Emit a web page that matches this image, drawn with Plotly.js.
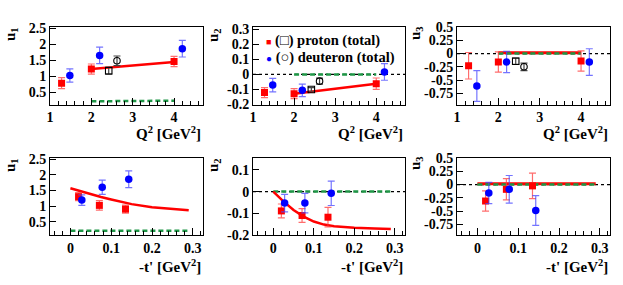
<!DOCTYPE html>
<html>
<head>
<meta charset="utf-8">
<script src="https://cdn.plot.ly/plotly-3.0.1.min.js"></script>
<style>html,body{margin:0;padding:0;background:#fff;}#plot{width:623px;height:285px;}</style>
</head>
<body>
<div id="plot"></div>
<script>
// ---------- data: Q^2 dependence ----------
const q2Proton   = [1.28, 2.0, 4.0];
const q2Deuteron = [1.48, 2.2, 4.2];
const q2ProtonTot   = [2.42];
const q2DeuteronTot = [2.62];

const u1QProton    = [0.78, 1.22, 1.46];  const u1QProtonErr    = [0.17, 0.16, 0.16];
const u1QDeuteron  = [1.02, 1.65, 1.86];  const u1QDeuteronErr  = [0.21, 0.26, 0.26];
const u1QProtonT   = [1.17];              const u1QProtonTErr   = [0.11];
const u1QDeuteronT = [1.48];              const u1QDeuteronTErr = [0.15];

const u2QProton    = [-0.121, -0.128, -0.062]; const u2QProtonErr   = [0.033, 0.033, 0.038];
const u2QDeuteron  = [-0.071, -0.106, 0.016];  const u2QDeuteronErr = [0.045, 0.042, 0.055];
const u2QProtonT   = [-0.10];                  const u2QProtonTErr   = [0.012];
const u2QDeuteronT = [-0.045];                 const u2QDeuteronTErr = [0.02];

const u3QProton    = [-0.23, -0.16, -0.14];  const u3QProtonErr   = [0.25, 0.19, 0.19];
const u3QDeuteron  = [-0.61, -0.16, -0.16];  const u3QDeuteronErr = [0.29, 0.20, 0.25];
const u3QProtonT   = [-0.145];               const u3QProtonTErr   = [0.06];
const u3QDeuteronT = [-0.25];                const u3QDeuteronTErr = [0.07];

// model curves vs Q^2
const q2Model    = [2.0, 2.5, 3.0, 3.5, 4.0];
const u1QModelR  = [1.22, 1.28, 1.33, 1.39, 1.44];
const u1QModelG  = [0.21, 0.215, 0.22, 0.225, 0.23];
const u2QModelR  = [-0.128, -0.111, -0.094, -0.078, -0.062];
const u2QModelG  = [0.0, 0.0, 0.0, 0.0, 0.0];
const u3QModelR  = [0.015, 0.015, 0.015, 0.015, 0.015];
const u3QModelG  = [0.0, 0.0, 0.0, 0.0, 0.0];

// ---------- data: -t' dependence ----------
const tProton   = [0.020, 0.071, 0.135];
const tDeuteron = [0.028, 0.078, 0.143];

const u1TProton   = [1.30, 1.02, 0.90];   const u1TProtonErr   = [0.13, 0.15, 0.13];
const u1TDeuteron = [1.19, 1.60, 1.86];   const u1TDeuteronErr = [0.17, 0.23, 0.27];
const u2TProton   = [-0.089, -0.110, -0.118]; const u2TProtonErr   = [0.032, 0.032, 0.045];
const u2TDeuteron = [-0.053, -0.053, -0.008]; const u2TDeuteronErr = [0.040, 0.045, 0.056];
const u3TProton   = [-0.31, -0.09, -0.025];   const u3TProtonErr   = [0.19, 0.20, 0.24];
const u3TDeuteron = [-0.16, -0.09, -0.49];    const u3TDeuteronErr = [0.20, 0.26, 0.28];

const tModel    = [0, 0.025, 0.05, 0.075, 0.1, 0.125, 0.15, 0.2, 0.25, 0.29];
const u1TModelR = [1.57, 1.47, 1.38, 1.29, 1.21, 1.13, 1.06, 0.96, 0.90, 0.86];
const u1TModelG = [0.21, 0.21, 0.21, 0.21, 0.21, 0.21, 0.21, 0.21, 0.21, 0.21];
const u2TModelR = [0, -0.045, -0.085, -0.115, -0.138, -0.152, -0.160, -0.167, -0.170, -0.172];
const u2TModelG = [0, 0, 0, 0, 0, 0, 0, 0, 0, 0];
const u3TModelR = [0.015, 0.015, 0.015, 0.015, 0.015, 0.015, 0.015, 0.015, 0.015, 0.015];
const u3TModelG = [0, 0, 0, 0, 0, 0, 0, 0, 0, 0];

// tick labels
const u1Ticks = [0.5, 1, 1.5, 2, 2.5];       const u1TickText = ['0.5', '1', '1.5', '2', '2.5'];
const u2QTicks = [-0.2, -0.1, 0, 0.1, 0.2, 0.3]; const u2QTickText = ['-0.2', '-0.1', '0', '0.1', '0.2', '0.3'];
const u2TTicks = [-0.2, -0.1, 0, 0.1];       const u2TTickText = ['-0.2', '-0.1', '0', '0.1'];
const u3Ticks = [-0.75, -0.5, -0.25, 0, 0.25, 0.5]; const u3TickText = ['-0.75', '-0.5', '-0.25', '0', '0.25', '0.5'];
const q2Ticks = [1, 2, 3, 4];                const q2TickText = ['1', '2', '3', '4'];
const tTicks = [0, 0.1, 0.2, 0.3];           const tTickText = ['0', '0.1', '0.2', '0.3'];

// ---------- drawing ----------
const W = 623, H = 285;
const FONT = 'Liberation Serif';
const RED = '#ff0000', BLUE = '#0000ff';
const RED_E = 'rgba(255,60,60,0.75)', BLUE_E = 'rgba(70,70,255,0.75)';
const GREEN = 'rgb(30,150,70)';
const GDASH = '5px,3px';

const cols = [[50, 203], [253, 405], [457, 610]];
const rows = [[27, 104.5], [158, 235]];
const fx = p => p / W;
const fy = p => 1 - p / H;

const traces = [];
function pts(ax, x, y, err, color, ecolor, symbol, size, lw) {
  traces.push({
    type: 'scatter', mode: 'markers', x: x, y: y,
    xaxis: 'x' + ax, yaxis: 'y' + ax, showlegend: false,
    marker: {symbol: symbol, size: size, color: color, line: {color: color, width: lw}},
    error_y: {type: 'data', array: err, visible: true, color: ecolor, thickness: 1.2, width: 3.5}
  });
}
function line(ax, x, y, color, dash, width) {
  traces.push({
    type: 'scatter', mode: 'lines', x: x, y: y,
    xaxis: 'x' + ax, yaxis: 'y' + ax, showlegend: false,
    line: {color: color, dash: dash, width: width}
  });
}

// panel 1: u1 vs Q2
line('', q2Model, u1QModelG, GREEN, GDASH, 2.5);
line('', q2Model, u1QModelR, RED, 'solid', 2.5);
pts('', q2Proton, u1QProton, u1QProtonErr, RED, RED_E, 'square', 7, 0);
pts('', q2Deuteron, u1QDeuteron, u1QDeuteronErr, BLUE, BLUE_E, 'circle', 7.5, 0);
pts('', q2ProtonTot, u1QProtonT, u1QProtonTErr, '#000', '#444', 'square-open', 6.5, 1.1);
pts('', q2DeuteronTot, u1QDeuteronT, u1QDeuteronTErr, '#000', '#444', 'circle-open', 6.5, 1.1);
// panel 2: u2 vs Q2
line('2', q2Model, u2QModelG, GREEN, GDASH, 2.5);
line('2', q2Model, u2QModelR, RED, 'solid', 2.5);
pts('2', q2Proton, u2QProton, u2QProtonErr, RED, RED_E, 'square', 7, 0);
pts('2', q2Deuteron, u2QDeuteron, u2QDeuteronErr, BLUE, BLUE_E, 'circle', 7.5, 0);
pts('2', q2ProtonTot, u2QProtonT, u2QProtonTErr, '#000', '#444', 'square-open', 6.5, 1.1);
pts('2', q2DeuteronTot, u2QDeuteronT, u2QDeuteronTErr, '#000', '#444', 'circle-open', 6.5, 1.1);
// panel 3: u3 vs Q2
line('3', q2Model, u3QModelR, RED, 'solid', 3);
line('3', q2Model, u3QModelG, GREEN, GDASH, 2.5);
pts('3', q2Proton, u3QProton, u3QProtonErr, RED, RED_E, 'square', 7, 0);
pts('3', q2Deuteron, u3QDeuteron, u3QDeuteronErr, BLUE, BLUE_E, 'circle', 7.5, 0);
pts('3', q2ProtonTot, u3QProtonT, u3QProtonTErr, '#000', '#444', 'square-open', 6.5, 1.1);
pts('3', q2DeuteronTot, u3QDeuteronT, u3QDeuteronTErr, '#000', '#444', 'circle-open', 6.5, 1.1);
// panel 4: u1 vs -t'
line('4', tModel, u1TModelG, GREEN, GDASH, 2.5);
line('4', tModel, u1TModelR, RED, 'solid', 2.5);
pts('4', tProton, u1TProton, u1TProtonErr, RED, RED_E, 'square', 7, 0);
pts('4', tDeuteron, u1TDeuteron, u1TDeuteronErr, BLUE, BLUE_E, 'circle', 7.5, 0);
// panel 5: u2 vs -t'
line('5', tModel, u2TModelG, GREEN, GDASH, 2.5);
line('5', tModel, u2TModelR, RED, 'solid', 2.5);
pts('5', tProton, u2TProton, u2TProtonErr, RED, RED_E, 'square', 7, 0);
pts('5', tDeuteron, u2TDeuteron, u2TDeuteronErr, BLUE, BLUE_E, 'circle', 7.5, 0);
// panel 6: u3 vs -t'
line('6', tModel, u3TModelR, RED, 'solid', 3);
line('6', tModel, u3TModelG, GREEN, GDASH, 2.5);
pts('6', tProton, u3TProton, u3TProtonErr, RED, RED_E, 'square', 7, 0);
pts('6', tDeuteron, u3TDeuteron, u3TDeuteronErr, BLUE, BLUE_E, 'circle', 7.5, 0);

const tickFont = {family: FONT, size: 14, color: '#000', weight: 'bold'};
function xaxis(col, row, range, tv, tt, minor, yName) {
  return {
    domain: [fx(cols[col][0]), fx(cols[col][1])], anchor: yName, range: range,
    tickmode: 'array', tickvals: tv, ticktext: tt,
    ticks: 'inside', ticklen: 7, tickwidth: 1, tickcolor: '#000',
    minor: {dtick: minor, ticks: 'inside', ticklen: 4, tickwidth: 1, tickcolor: '#000', showgrid: false},
    showline: true, linecolor: '#000', linewidth: 1, mirror: true,
    showgrid: false, zeroline: false, tickfont: tickFont, fixedrange: true
  };
}
function yaxis(col, row, range, tv, tt, xName) {
  return {
    domain: [fy(rows[row][1]), fy(rows[row][0])], anchor: xName, range: range,
    tickmode: 'array', tickvals: tv, ticktext: tt,
    ticks: 'inside', ticklen: 6, tickwidth: 1, tickcolor: '#000',
    showline: true, linecolor: '#000', linewidth: 1, mirror: true,
    showgrid: false, zeroline: false, tickfont: tickFont, fixedrange: true
  };
}

const layout = {
  width: W, height: H, margin: {l: 0, r: 0, t: 0, b: 0},
  paper_bgcolor: '#fff', plot_bgcolor: '#fff', showlegend: false,
  font: {family: FONT, color: '#000'},
  xaxis:  xaxis(0, 0, [1, 4.7], q2Ticks, q2TickText, 0.2, 'y'),
  yaxis:  yaxis(0, 0, [0.11, 2.54], u1Ticks, u1TickText, 'x'),
  xaxis2: xaxis(1, 0, [1, 4.7], q2Ticks, q2TickText, 0.2, 'y2'),
  yaxis2: yaxis(1, 0, [-0.2, 0.315], u2QTicks, u2QTickText, 'x2'),
  xaxis3: xaxis(2, 0, [1, 4.7], q2Ticks, q2TickText, 0.2, 'y3'),
  yaxis3: yaxis(2, 0, [-0.96, 0.5], u3Ticks, u3TickText, 'x3'),
  xaxis4: xaxis(0, 1, [-0.05, 0.325], tTicks, tTickText, 0.02, 'y4'),
  yaxis4: yaxis(0, 1, [0.07, 2.54], u1Ticks, u1TickText, 'x4'),
  xaxis5: xaxis(1, 1, [-0.05, 0.325], tTicks, tTickText, 0.02, 'y5'),
  yaxis5: yaxis(1, 1, [-0.2, 0.155], u2TTicks, u2TTickText, 'x5'),
  xaxis6: xaxis(2, 1, [-0.05, 0.325], tTicks, tTickText, 0.02, 'y6'),
  yaxis6: yaxis(2, 1, [-0.95, 0.5], u3Ticks, u3TickText, 'x6'),
  shapes: ['2', '3', '5', '6'].map(a => ({
    type: 'line', xref: 'x' + a + ' domain', yref: 'y' + a, x0: 0, x1: 1, y0: 0, y1: 0,
    line: {color: '#000', width: 1.3, dash: 'dot'}, layer: 'below'
  })),
  annotations: []
};

const titleFont = {family: FONT, size: 15, color: '#000', weight: 'bold'};
// y titles (rotated, top-aligned like ROOT)
const yTitles = [['u<sub>1</sub>', 11, 34], ['u<sub>2</sub>', 214, 35], ['u<sub>3</sub>', 416, 33],
                 ['u<sub>1</sub>', 11, 165], ['u<sub>2</sub>', 214, 165], ['u<sub>3</sub>', 416, 163]];
yTitles.forEach(t => layout.annotations.push({
  text: t[0], xref: 'paper', yref: 'paper', x: fx(t[1]), y: fy(t[2]),
  xanchor: 'center', yanchor: 'middle', textangle: -90, showarrow: false, font: titleFont
}));
// x titles (right-aligned)
const xTitles = [['Q<sup>2</sup> [GeV<sup>2</sup>]', 203, 133], ['Q<sup>2</sup> [GeV<sup>2</sup>]', 405, 133],
                 ['Q<sup>2</sup> [GeV<sup>2</sup>]', 610, 133], ['-t\' [GeV<sup>2</sup>]', 203, 266],
                 ['-t\' [GeV<sup>2</sup>]', 405, 266], ['-t\' [GeV<sup>2</sup>]', 610, 266]];
xTitles.forEach(t => layout.annotations.push({
  text: t[0], xref: 'paper', yref: 'paper', x: fx(t[1]), y: fy(t[2]),
  xanchor: 'right', yanchor: 'middle', showarrow: false, font: titleFont
}));
// legend (text-based)
const legFont = {family: FONT, size: 14.5, color: '#000', weight: 'bold'};
layout.annotations.push({
  text: '<span style="color:#ff0000;font-size:9px">■</span> (□) proton (total)',
  xref: 'paper', yref: 'paper', x: fx(264), y: fy(40), xanchor: 'left', yanchor: 'middle',
  showarrow: false, font: legFont
});
layout.annotations.push({
  text: '<span style="color:#0000ff;font-size:10px">●</span> (○) deuteron (total)',
  xref: 'paper', yref: 'paper', x: fx(264), y: fy(58), xanchor: 'left', yanchor: 'middle',
  showarrow: false, font: legFont
});

Plotly.newPlot('plot', traces, layout, {staticPlot: true, displayModeBar: false});
</script>
</body>
</html>
